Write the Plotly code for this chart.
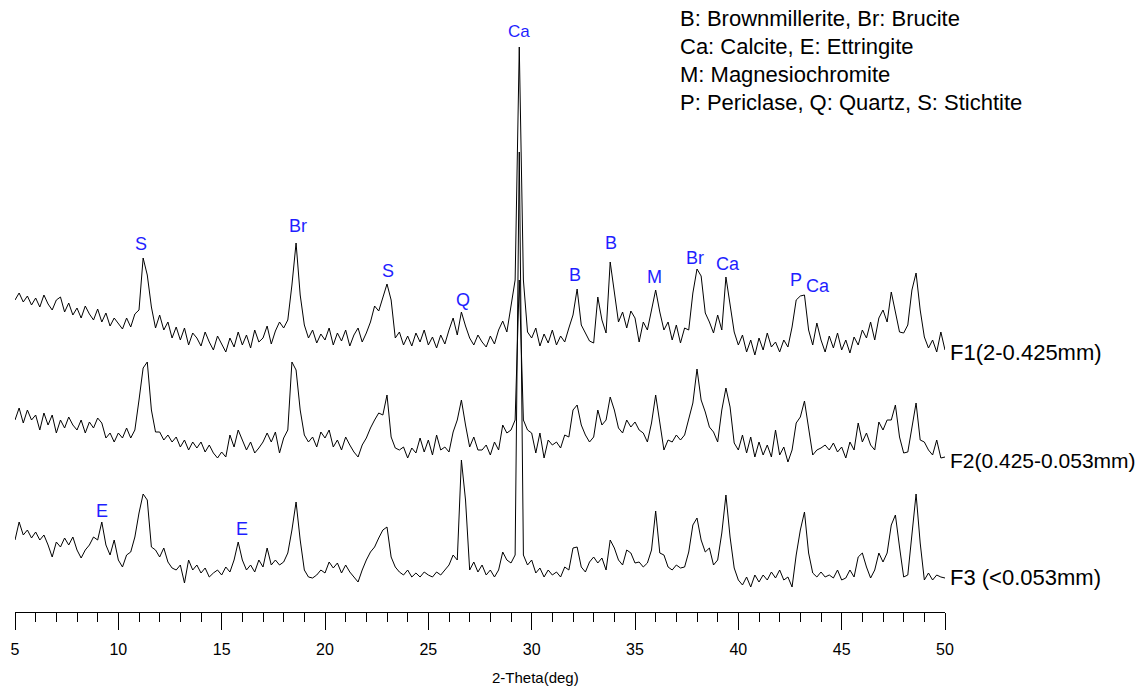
import numpy as np
import plotly.graph_objects as go

# 2-theta grid (deg), 0.2 deg step from 5 to 50
two_theta = [round(5 + 0.2 * i, 1) for i in range(226)]

# Intensities (arbitrary units), 5 values per degree
F1 = [
    60, 67, 58, 64, 55,
    62, 53, 65, 56, 50,
    60, 63, 48, 57, 45,
    52, 42, 54, 46, 40,
    51, 38, 47, 34, 42,
    36, 31, 42, 33, 46,
    50, 102, 85, 53, 32,
    45, 30, 38, 22, 33,
    20, 32, 15, 27, 22,
    14, 28, 18, 10, 24,
    16, 8, 22, 13, 28,
    15, 25, 12, 30, 18,
    22, 34, 16, 29, 38,
    32, 40, 75, 117, 65,
    35, 22, 30, 17, 26,
    20, 32, 15, 27, 19,
    30, 14, 25, 32, 18,
    27, 38, 54, 49, 62,
    76, 60, 22, 28, 15,
    24, 14, 27, 18, 30,
    15, 23, 12, 25, 16,
    30, 42, 25, 48, 34,
    22, 15, 25, 18, 13,
    24, 16, 30, 39, 28,
    52, 80, 313, 80, 28,
    22, 32, 14, 26, 17,
    30, 15, 24, 18, 32,
    45, 71, 35, 27, 19,
    17, 63, 40, 27, 98,
    70, 38, 48, 32, 49,
    42, 18, 38, 30, 52,
    70, 48, 30, 38, 20,
    35, 17, 32, 30, 67,
    91, 84, 47, 38, 27,
    45, 30, 83, 55, 28,
    15, 25, 8, 20, 5,
    22, 10, 27, 13, 18,
    8, 20, 13, 33, 60,
    64, 65, 30, 15, 37,
    20, 8, 24, 12, 27,
    10, 20, 7, 23, 15,
    30, 22, 38, 20, 42,
    50, 38, 68, 48, 28,
    27, 35, 70, 87, 50,
    23, 12, 20, 8, 28,
    10,
]

F2 = [
    50, 62, 47, 60, 50,
    55, 40, 57, 45, 55,
    37, 50, 42, 53, 45,
    40, 50, 37, 48, 42,
    52, 47, 32, 37, 28,
    37, 32, 42, 32, 40,
    70, 102, 108, 60, 38,
    38, 30, 35, 28, 33,
    23, 30, 20, 28, 22,
    28, 18, 25, 17, 12,
    18, 13, 35, 23, 40,
    30, 20, 28, 17, 22,
    28, 37, 28, 38, 17,
    32, 40, 108, 100, 60,
    35, 28, 33, 23, 38,
    32, 40, 23, 30, 20,
    33, 25, 18, 13, 25,
    32, 42, 50, 57, 55,
    75, 33, 22, 20, 23,
    12, 22, 17, 32, 18,
    30, 15, 35, 20, 23,
    18, 38, 50, 70, 45,
    23, 33, 20, 20, 25,
    15, 28, 20, 45, 37,
    40, 50, 190, 50, 40,
    37, 17, 37, 12, 30,
    25, 28, 22, 35, 33,
    60, 65, 45, 35, 28,
    33, 60, 45, 50, 73,
    60, 42, 37, 50, 43,
    48, 40, 37, 28, 47,
    75, 47, 20, 30, 28,
    35, 30, 35, 50, 67,
    101, 70, 58, 43, 38,
    28, 60, 82, 63, 27,
    20, 35, 17, 33, 13,
    28, 15, 25, 13, 40,
    15, 23, 8, 20, 47,
    53, 69, 43, 15, 20,
    22, 25, 20, 27, 18,
    23, 12, 28, 20, 47,
    28, 37, 25, 20, 48,
    40, 50, 50, 65, 33,
    17, 18, 43, 67, 30,
    28, 20, 15, 30, 12,
    13,
]

F3 = [
    55, 73, 60, 65, 57,
    63, 55, 60, 50, 38,
    53, 48, 57, 50, 58,
    45, 37, 45, 50, 58,
    55, 73, 50, 40, 55,
    35, 28, 40, 43, 58,
    82, 101, 95, 48, 45,
    38, 47, 33, 27, 25,
    30, 12, 35, 25, 30,
    22, 27, 18, 22, 25,
    20, 28, 23, 35, 53,
    35, 25, 30, 23, 35,
    28, 47, 30, 35, 30,
    33, 42, 65, 93, 55,
    25, 18, 17, 20, 25,
    22, 33, 27, 32, 22,
    30, 23, 18, 13, 25,
    35, 43, 48, 57, 65,
    68, 38, 28, 23, 20,
    25, 18, 22, 18, 23,
    20, 18, 23, 20, 25,
    30, 40, 35, 135, 95,
    25, 33, 23, 30, 20,
    25, 18, 25, 43, 35,
    32, 40, 443, 40, 30,
    35, 22, 27, 18, 25,
    20, 23, 18, 28, 25,
    47, 48, 28, 23, 33,
    38, 32, 37, 25, 55,
    47, 35, 30, 45, 42,
    32, 33, 28, 32, 45,
    84, 42, 40, 28, 25,
    30, 27, 28, 43, 70,
    77, 55, 43, 47, 30,
    35, 62, 100, 58, 27,
    15, 10, 18, 8, 20,
    13, 20, 15, 23, 17,
    25, 15, 18, 8, 40,
    65, 83, 42, 22, 18,
    23, 18, 20, 17, 25,
    15, 17, 25, 18, 38,
    42, 28, 17, 25, 42,
    33, 42, 70, 80, 48,
    18, 20, 62, 101, 52,
    15, 22, 15, 20, 18,
    17,
]

series_names = ["F1(2-0.425mm)", "F2(0.425-0.053mm)", "F3 (<0.053mm)"]
series_data = [F1, F2, F3]
offsets = [252, 142, 17]
label_levels = [260, 152, 35]
label_sizes = [22, 21, 22]

# Phase labels: (text, 2-theta, height)
peak_labels = ["S", "Br", "S", "Q", "Ca", "B", "B", "M", "Br", "Ca", "P", "Ca", "E", "E"]
peak_x = [11.1, 18.69, 23.05, 26.68, 29.39, 32.1, 33.84, 35.92, 37.9, 39.5, 42.79, 43.85, 9.21, 15.98]
peak_y = [368, 386, 341, 312, 581, 337, 369, 335, 354, 348, 332, 326, 101, 83]
peak_size = [18, 18, 18, 18, 17, 18, 18, 18, 18, 18, 18, 18, 18, 18]

key_lines = [
    "B: Brownmillerite, Br: Brucite",
    "Ca: Calcite, E: Ettringite",
    "M: Magnesiochromite",
    "P: Periclase, Q: Quartz, S: Stichtite",
]
key_y = [594, 566, 538, 510]

x_title = "2-Theta(deg)"

FONT = "Arial, Liberation Sans, sans-serif"
BLUE = "#1f1fff"

fig = go.Figure()
for name, data, off in zip(series_names, series_data, offsets):
    fig.add_trace(go.Scatter(
        x=two_theta, y=np.array(data) + off, mode="lines",
        line=dict(color="black", width=1), name=name, showlegend=False,
        hoverinfo="skip"))

annotations = []
for name, lv, fs in zip(series_names, label_levels, label_sizes):
    annotations.append(dict(text=name, xref="paper", yref="y", x=1.0032, y=lv,
                            xanchor="left", yanchor="middle", showarrow=False,
                            font=dict(family=FONT, size=fs, color="black")))
for t, x, y, s in zip(peak_labels, peak_x, peak_y, peak_size):
    annotations.append(dict(text=t, xref="x", yref="y", x=x, y=y,
                            xanchor="center", yanchor="middle", showarrow=False,
                            font=dict(family=FONT, size=s, color=BLUE)))
for t, y in zip(key_lines, key_y):
    annotations.append(dict(text=t, xref="paper", yref="y", x=0.713, y=y,
                            xanchor="left", yanchor="middle", showarrow=False,
                            font=dict(family=FONT, size=22, color="black")))
annotations.append(dict(text=x_title, xref="paper", yref="paper", x=0.56, y=-0.1096,
                        xanchor="center", yanchor="middle", showarrow=False,
                        font=dict(family=FONT, size=15, color="black")))

fig.update_layout(
    width=1140, height=680,
    margin=dict(l=7, r=203, t=2, b=76, autoexpand=False),
    paper_bgcolor="white", plot_bgcolor="white",
    annotations=annotations,
    xaxis=dict(
        range=[5, 50], showgrid=False, zeroline=False, automargin=False,
        showline=True, linecolor="black", linewidth=1.3,
        ticks="outside", ticklen=17, tickwidth=1.3, tickcolor="black",
        tick0=5, dtick=5, ticklabelstandoff=6,
        tickfont=dict(family=FONT, size=16, color="black"),
        minor=dict(ticks="outside", ticklen=9, tickwidth=1.3, tickcolor="black", dtick=1, tick0=5, showgrid=False),
    ),
    yaxis=dict(range=[0, 602], visible=False),
)

fig.write_html("out.html")
